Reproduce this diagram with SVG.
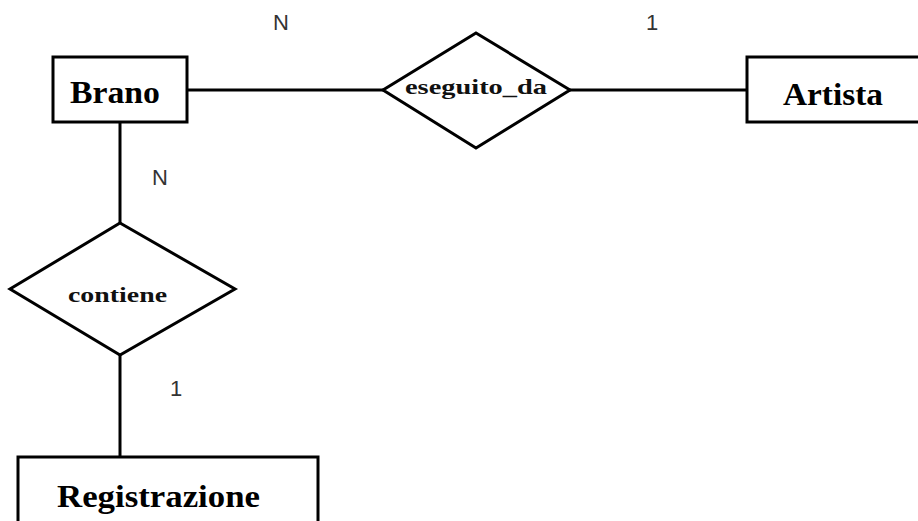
<svg xmlns="http://www.w3.org/2000/svg" width="918" height="521" viewBox="0 0 918 521">
<style>
.box{fill:#fff;stroke:#000;stroke-width:3}
.rel{fill:#fff;stroke:#000;stroke-width:3;stroke-linejoin:miter}
.ln{stroke:#000;stroke-width:3;fill:none}
.ent{font-family:"Liberation Serif",serif;font-weight:bold;font-size:31px;fill:#000}
.rt{font-family:"Liberation Serif",serif;font-weight:bold;font-size:21px;fill:#111}
.card{font-family:"Liberation Sans",sans-serif;font-size:22px;fill:#333;text-anchor:middle}
</style>
<rect width="918" height="521" fill="#fff"/>
<g id="connectors">
<line class="ln" x1="187" y1="90" x2="384" y2="90"/>
<line class="ln" x1="569" y1="90" x2="748" y2="90"/>
<line class="ln" x1="120" y1="122" x2="120" y2="223"/>
<line class="ln" x1="120" y1="355" x2="120" y2="458"/>
</g>
<g id="brano">
<rect class="box" x="53" y="57" width="134" height="65"/>
<text class="ent" x="70" y="103" textLength="90" lengthAdjust="spacingAndGlyphs">Brano</text>
</g>
<g id="eseguito_da">
<polygon class="rel" points="476,33 570,90 476,148 383,90"/>
<text class="rt" x="405" y="94" textLength="142" lengthAdjust="spacingAndGlyphs">eseguito_da</text>
</g>
<g id="artista">
<rect class="box" x="747" y="57" width="180" height="65"/>
<text class="ent" x="783" y="105" textLength="100" lengthAdjust="spacingAndGlyphs">Artista</text>
</g>
<g id="contiene">
<polygon class="rel" points="120,223 235,289 120,355 10,289"/>
<text class="rt" x="68" y="302" textLength="99" lengthAdjust="spacingAndGlyphs">contiene</text>
</g>
<g id="registrazione">
<rect class="box" x="18" y="457" width="300" height="80"/>
<text class="ent" x="57" y="507" textLength="203" lengthAdjust="spacingAndGlyphs">Registrazione</text>
</g>
<g id="cardinalities">
<text class="card" x="281" y="30">N</text>
<text class="card" x="652" y="30">1</text>
<text class="card" x="160" y="185">N</text>
<text class="card" x="176" y="396">1</text>
</g>
</svg>
